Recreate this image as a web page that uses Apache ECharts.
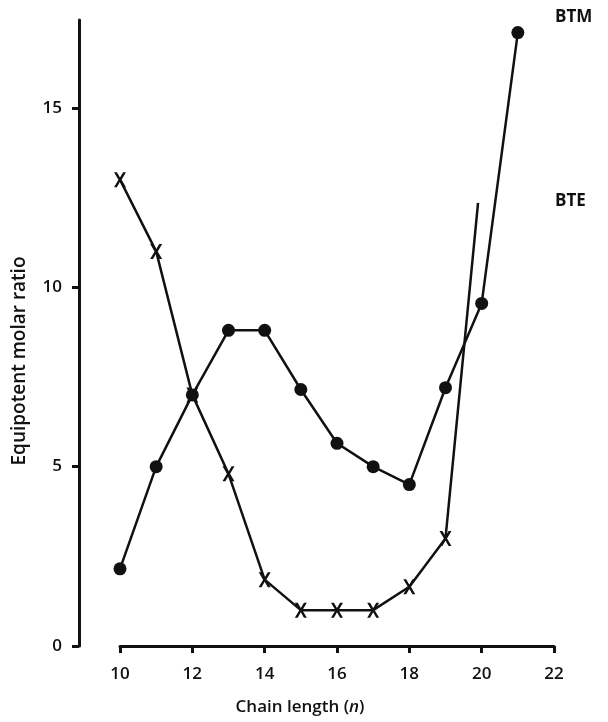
<!DOCTYPE html>
<html>
<head>
<meta charset="utf-8">
<script src="https://cdn.jsdelivr.net/npm/echarts@6/dist/echarts.min.js"></script>
<style>html,body{margin:0;padding:0;background:#fff}#c{width:608px;height:722px}</style>
</head>
<body>
<div id="c"></div>
<script>
const chainLength = [10, 11, 12, 13, 14, 15, 16, 17, 18, 19, 20, 21];
const btm = [2.15, 5.0, 7.0, 8.8, 8.8, 7.15, 5.65, 5.0, 4.5, 7.2, 9.55, 17.1];
const bteX = [10, 11, 12, 13, 14, 15, 16, 17, 18, 19, 19.9];
const bte = [13.0, 11.0, 7.0, 4.8, 1.85, 1.0, 1.0, 1.0, 1.65, 3.0, 12.35];
const xTicks = [10, 12, 14, 16, 18, 20, 22];
const yTicks = [0, 5, 10, 15];

const FONT = '"Open Sans", Lato, sans-serif';
const INK = '#111';
const xPath = 'path://M0,0 L24,0 L50,36 L76,0 L100,0 L63,50 L100,100 L76,100 L50,64 L24,100 L0,100 L37,50 Z';

const chart = echarts.init(document.getElementById('c'), null, {renderer: 'canvas'});
chart.setOption({
  animation: false,
  backgroundColor: '#fff',
  grid: {left: 120, right: 54, top: 20, bottom: 76},
  xAxis: {
    type: 'value', min: 10, max: 22, interval: 2,
    name: 'Chain length ({i|n})', nameLocation: 'middle', nameGap: 53,
    nameTextStyle: {fontFamily: FONT, fontSize: 17, fontWeight: 600, color: INK, padding: [0, 74, 0, 0],
      rich: {i: {fontFamily: FONT, fontSize: 17, fontWeight: 600, fontStyle: 'italic', color: INK}}},
    axisLine: {onZero: false, lineStyle: {color: INK, width: 3}},
    axisTick: {length: 7, lineStyle: {color: INK, width: 3}, customValues: xTicks},
    axisLabel: {margin: 20, fontFamily: FONT, fontSize: 17, fontWeight: 600, color: INK, customValues: xTicks},
    splitLine: {show: false}
  },
  yAxis: {
    type: 'value', min: 0, max: 17.45, interval: 5, offset: 41,
    name: 'Equipotent molar ratio', nameLocation: 'middle', nameGap: 50, nameRotate: 90,
    nameTextStyle: {fontFamily: FONT, fontSize: 19, fontWeight: 600, color: INK, padding: [0, 56, 0, 0]},
    axisLine: {onZero: false, lineStyle: {color: INK, width: 3}},
    axisTick: {length: 7, lineStyle: {color: INK, width: 3}, customValues: yTicks},
    axisLabel: {margin: 17, fontFamily: FONT, fontSize: 17, fontWeight: 600, color: INK, customValues: yTicks},
    splitLine: {show: false}
  },
  graphic: [
    {type: 'text', left: 555, top: 9, style: {text: 'BTM', fontFamily: FONT, fontSize: 17, fontWeight: 700, fill: INK}},
    {type: 'text', left: 555, top: 193, style: {text: 'BTE', fontFamily: FONT, fontSize: 17, fontWeight: 700, fill: INK}}
  ],
  series: [
    {
      name: 'BTM', type: 'line',
      data: chainLength.map((x, i) => [x, btm[i]]),
      symbol: 'circle', symbolSize: 13,
      lineStyle: {color: INK, width: 2.5},
      itemStyle: {color: INK},
      z: 3
    },
    {
      name: 'BTE', type: 'line',
      data: bteX.map((x, i) => i === bteX.length - 1 ? {value: [x, bte[i]], symbol: 'none'} : [x, bte[i]]),
      symbol: xPath, symbolSize: [12, 15],
      lineStyle: {color: INK, width: 2.5},
      itemStyle: {color: INK},
      z: 2
    }
  ]
});
</script>
</body>
</html>
